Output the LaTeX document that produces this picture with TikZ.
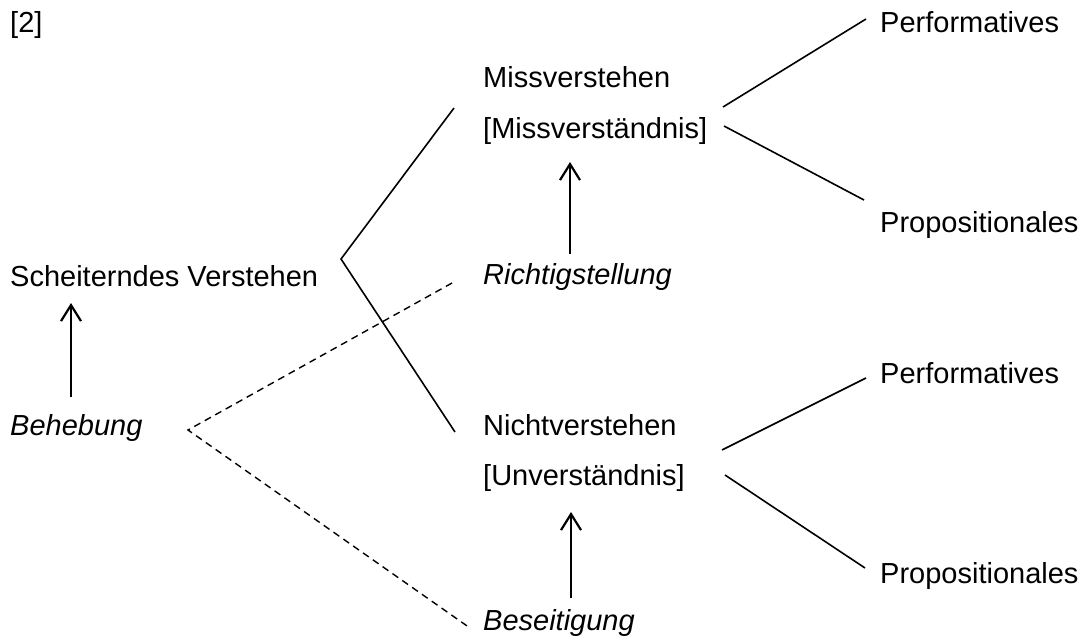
\documentclass[tikz,border=0pt]{standalone}
\usepackage{fontspec}
\setmainfont{Liberation Sans}
\usetikzlibrary{arrows.meta}
\tikzset{
  lbl/.style={anchor=base west, inner sep=0pt, font=\fontsize{29}{34}\selectfont},
  itl/.style={lbl, font=\fontsize{29}{34}\selectfont\itshape},
  conn/.style={line width=1.6pt},
  dconn/.style={line width=1.4pt, dash pattern=on 7pt off 5pt},
  uparrow/.style={line width=2.2pt, -{Straight Barb[length=16pt,width=20pt]}}
}
\begin{document}
\begin{tikzpicture}[x=1pt,y=-1pt]
\useasboundingbox (0,0) rectangle (1083,641);
\node[lbl] (two) at (10,32) {[2]};
\node[lbl] (perf1) at (880,32) {Performatives};
\node[lbl] (prop1) at (880,232) {Propositionales};
\node[lbl] (miss) at (483,87) {Missverstehen};
\node[lbl] (missn) at (483,138) {[Missverständnis]};
\node[itl] (richt) at (483,284) {Richtigstellung};
\node[lbl] (scheit) at (10,286) {Scheiterndes Verstehen};
\node[itl] (beheb) at (10,435) {Behebung};
\node[lbl] (nicht) at (483,435) {Nichtverstehen};
\node[lbl] (unv) at (483,485) {[Unverständnis]};
\node[lbl] (perf2) at (880,383) {Performatives};
\node[lbl] (prop2) at (880,583) {Propositionales};
\node[itl] (beseit) at (483,630) {Beseitigung};

\coordinate (corner) at (341,259);
\coordinate (mtop) at (454,108);
\coordinate (nbot) at (455,432);
\coordinate (dstart) at (188,430);
\coordinate (dup) at (452,283);
\coordinate (ddown) at (470,628);
\coordinate (m1a) at (723,107);
\coordinate (m1b) at (866,19);
\coordinate (m2a) at (724,126);
\coordinate (m2b) at (864,200);
\coordinate (n1a) at (722,450);
\coordinate (n1b) at (866,378);
\coordinate (n2a) at (725,475);
\coordinate (n2b) at (865,568);

\draw[conn] (mtop) -- (corner) -- (nbot);
\draw[dconn] (dup) -- (dstart) -- (ddown);
\draw[conn] (m1a) -- (m1b);
\draw[conn] (m2a) -- (m2b);
\draw[conn] (n1a) -- (n1b);
\draw[conn] (n2a) -- (n2b);

\draw[uparrow] (71,397) -- (71,303);
\draw[uparrow] (570,254) -- (570,162);
\draw[uparrow] (571,598) -- (571,512);
\end{tikzpicture}
\end{document}
